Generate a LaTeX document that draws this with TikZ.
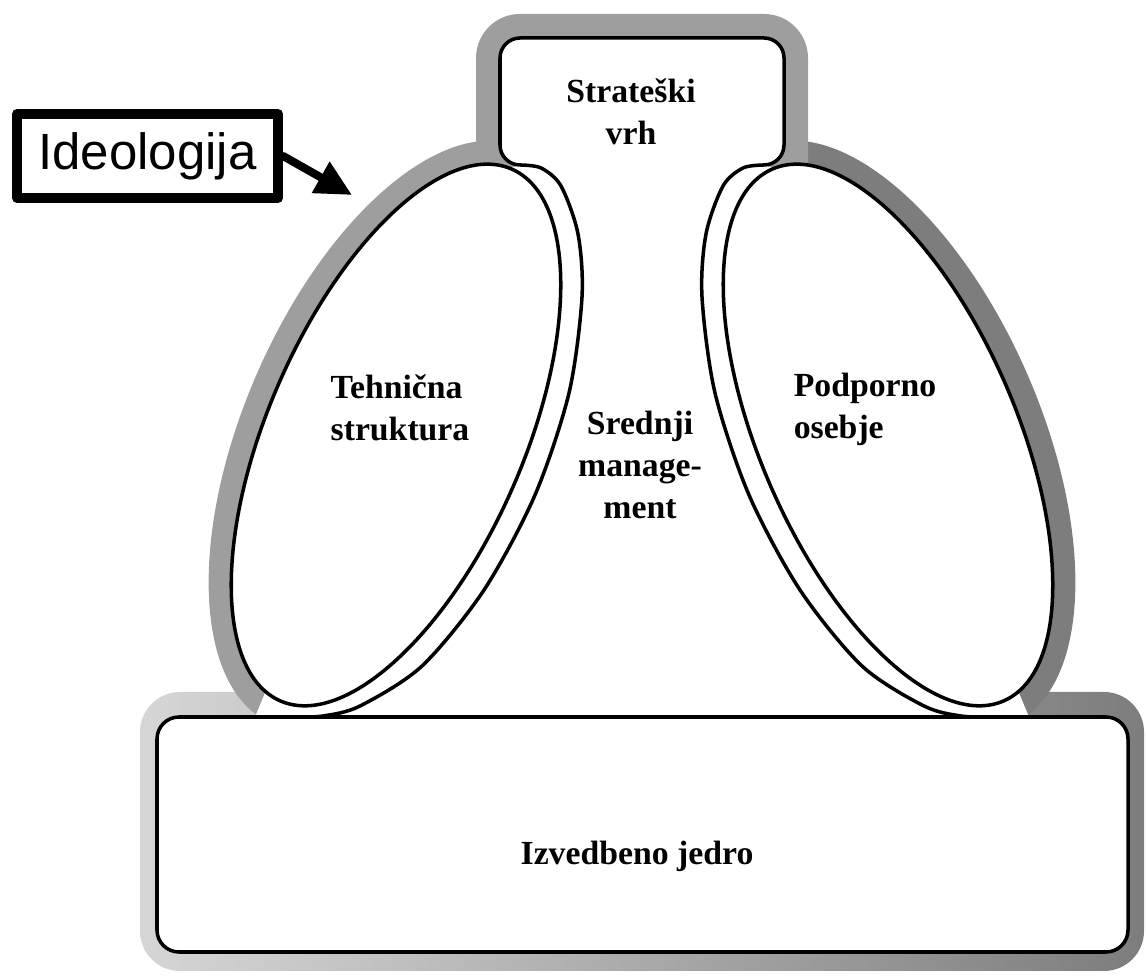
\documentclass[tikz,border=0pt]{standalone}
\usepackage{fontspec}
\setmainfont{Liberation Serif}
\newfontfamily\arialfont{Liberation Sans}
\usetikzlibrary{arrows.meta}

\definecolor{halogray}{RGB}{158,158,158}
\definecolor{halodark}{RGB}{125,125,125}
\definecolor{halolight}{RGB}{214,214,214}

\begin{document}
\begin{tikzpicture}[x=1cm,y=1cm,line cap=round,line join=round,
        lbl/.style={font=\fontsize{9.6}{12}\selectfont\bfseries,inner sep=0pt},
        contour/.style={line width=1pt}]
        \useasboundingbox (0,0) rectangle (11.46,9.76);

        % Ideologija: siv obroc okrog celote
        \shade[left color=halolight,right color=halodark,rounded corners=0.4cm]
            (1.40,0.05) rectangle (11.44,2.84);
        \fill[halogray,rotate around={66.5:(3.96,5.41)}]
            (3.96,5.41) ellipse[x radius=3.14,y radius=1.52];
        \fill[halodark,rotate around={113.5:(8.88,5.41)}]
            (8.88,5.41) ellipse[x radius=3.14,y radius=1.52];
        \fill[halogray,rounded corners=0.44cm] (4.76,7.50) rectangle (8.08,9.62);

        % Vmesni pasovi ob elipsah
        \fill[white] (2.55,2.59) -- plot[smooth] coordinates {(2.95,2.59) (3.23,2.60)
            (3.60,2.70) (4.22,3.10) (4.84,3.86) (5.35,4.81) (5.69,5.83) (5.82,6.79)
            (5.78,7.42) (5.61,7.90) (5.41,8.08) (5.20,8.11)}
            -- (5.05,8.06) -- (3.96,5.41) -- (2.70,2.95) -- cycle;
        \fill[white] (10.29,2.59) -- plot[smooth] coordinates {(9.89,2.59) (9.61,2.60)
            (9.24,2.70) (8.62,3.10) (8.00,3.86) (7.49,4.81) (7.15,5.83) (7.02,6.79)
            (7.06,7.42) (7.23,7.90) (7.43,8.08) (7.64,8.11)}
            -- (7.79,8.06) -- (8.88,5.41) -- (10.14,2.95) -- cycle;

        % Tehnicna struktura in podporno osebje
        \filldraw[contour,fill=white,rotate around={66.5:(3.96,5.41)}]
            (3.96,5.41) ellipse[x radius=2.9,y radius=1.28];
        \filldraw[contour,fill=white,rotate around={113.5:(8.88,5.41)}]
            (8.88,5.41) ellipse[x radius=2.9,y radius=1.28];

        % Izvedbeno jedro
        \filldraw[contour,fill=white,rounded corners=0.22cm]
            (1.57,0.24) rectangle (11.28,2.59);

        % Strateski vrh in srednja linija
        \filldraw[contour,fill=white]
            (2.95,2.59) -- plot[smooth] coordinates {(2.95,2.59) (3.23,2.60)
            (3.60,2.70) (4.22,3.10) (4.84,3.86) (5.35,4.81) (5.69,5.83) (5.82,6.79)
            (5.78,7.42) (5.61,7.90) (5.41,8.08) (5.20,8.11)}
            arc[start angle=270,end angle=180,radius=0.2] -- (5.00,9.18)
            arc[start angle=180,end angle=90,radius=0.2] -- (7.64,9.38)
            arc[start angle=90,end angle=0,radius=0.2] -- (7.84,8.31)
            arc[start angle=0,end angle=-90,radius=0.2]
            -- plot[smooth] coordinates {(7.64,8.11) (7.43,8.08) (7.23,7.90)
            (7.06,7.42) (7.02,6.79) (7.15,5.83) (7.49,4.81) (8.00,3.86) (8.62,3.10)
            (9.24,2.70) (9.61,2.60) (9.89,2.59)} -- cycle;

        % Napisi
        \node[lbl,align=center] (strvrh) at (6.31,8.64) {Strateški\\vrh};
        \node[lbl,align=left] (tehstr) at (4.00,5.68) {Tehnična\\struktura};
        \node[lbl,align=center] (sredman) at (6.40,5.11) {Srednji\\manage-\\ment};
        \node[lbl,align=left] (podos) at (8.65,5.665) {Podporno\\osebje};
        \node[lbl] (izvjed) at (6.37,1.20) {Izvedbeno jedro};

        % Oznaka s puscico
        \node[draw,line width=2.85pt,minimum width=2.61cm,minimum height=0.84cm,
            font=\arialfont\fontsize{14.5}{17}\selectfont] (ideo) at (1.475,8.20) {Ideologija};
        \coordinate (ideotip) at (3.52,7.81);
        \draw[line width=2.3pt,-{Triangle[length=3.6mm,width=3.4mm]}] (ideo.east) -- (ideotip);
    \end{tikzpicture}
\end{document}
